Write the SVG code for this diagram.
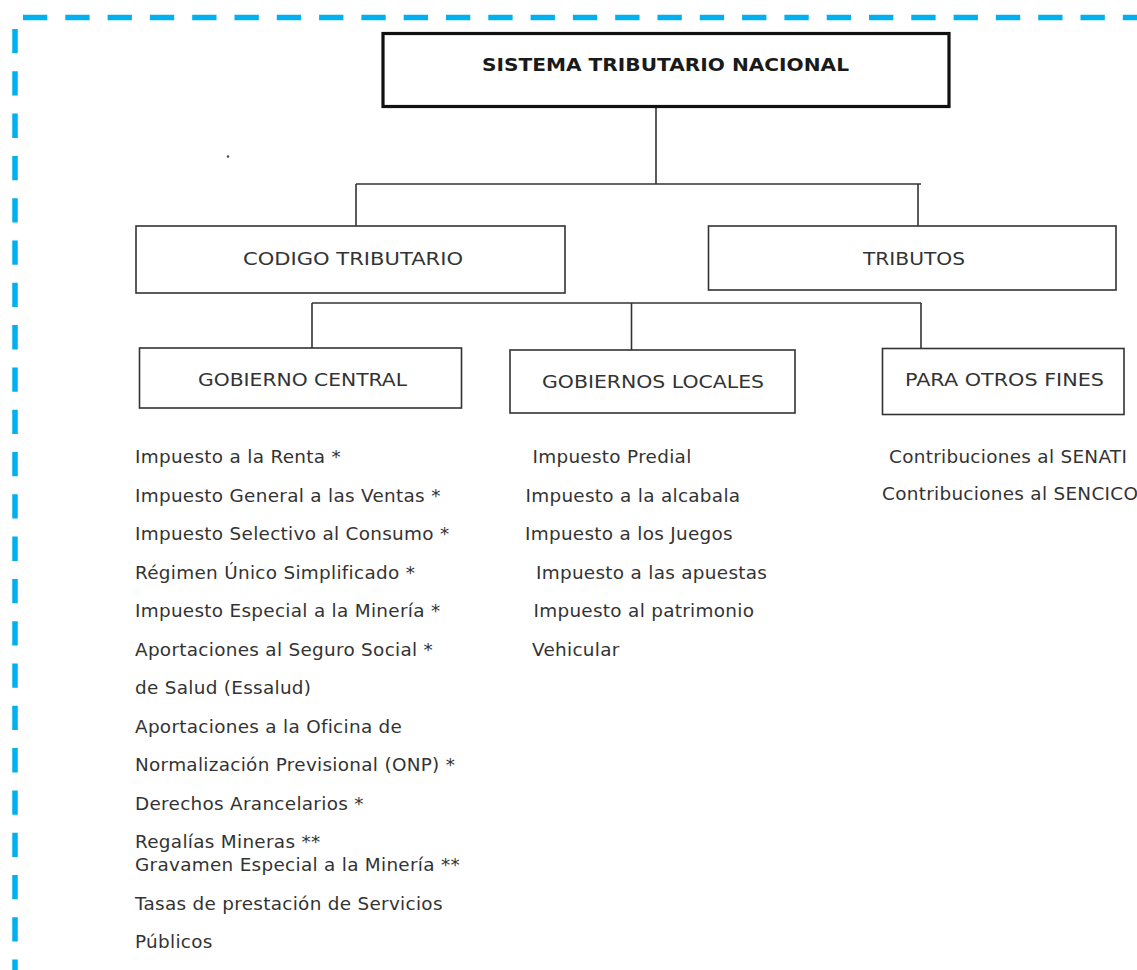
<svg xmlns="http://www.w3.org/2000/svg" width="1137" height="970" viewBox="0 0 1137 970">
<style>
.border{fill:none;stroke:#00b0f0;stroke-width:5.5;stroke-dasharray:24.3 18}
.box{fill:#fff;stroke:#333;stroke-width:1.6}
.main{fill:#fff;stroke:#111;stroke-width:3.2}
.conn{fill:none;stroke:#333;stroke-width:1.6}
.lbl{font-family:"DejaVu Sans",Verdana,sans-serif;font-size:18px;fill:#333}
.title{font-family:"DejaVu Sans",Verdana,sans-serif;font-weight:bold;font-size:18px;fill:#1a1a1a}
.li{font-family:"DejaVu Sans",Verdana,sans-serif;font-size:18.4px;letter-spacing:0.3px;fill:#333}
.lt{font-family:"DejaVu Sans",Tahoma,sans-serif;font-size:18.4px;letter-spacing:0.3px;fill:#333}
</style>
<rect width="1137" height="970" fill="#fff"/>
<g id="border">
<line class="border" x1="23" y1="17.5" x2="1137" y2="17.5"/>
<line class="border" x1="15" y1="29" x2="15" y2="970"/>
</g>
<circle cx="228" cy="156.5" r="1.2" fill="#445"/>
<g id="connectors">
<line class="conn" x1="656" y1="107" x2="656" y2="184"/>
<line class="conn" x1="356" y1="184" x2="921" y2="184"/>
<line class="conn" x1="356" y1="184" x2="356" y2="226"/>
<line class="conn" x1="918" y1="184" x2="918" y2="226"/>
<line class="conn" x1="312" y1="303" x2="921" y2="303"/>
<line class="conn" x1="312" y1="303" x2="312" y2="348"/>
<line class="conn" x1="631.5" y1="303" x2="631.5" y2="350"/>
<line class="conn" x1="921" y1="303" x2="921" y2="348"/>
</g>
<g id="n-sistema">
<rect class="main" x="383" y="33.5" width="566" height="73"/>
<text class="title" x="482" y="71" textLength="367" lengthAdjust="spacingAndGlyphs">SISTEMA TRIBUTARIO NACIONAL</text>
</g>
<g id="n-codigo">
<rect class="box" x="136" y="226" width="429" height="67"/>
<text class="lbl" x="243" y="264.5" textLength="220" lengthAdjust="spacingAndGlyphs">CODIGO TRIBUTARIO</text>
</g>
<g id="n-tributos">
<rect class="box" x="708.5" y="226" width="407.5" height="64"/>
<text class="lbl" x="863" y="264.5" textLength="102" lengthAdjust="spacingAndGlyphs">TRIBUTOS</text>
</g>
<g id="n-central">
<rect class="box" x="139.5" y="348" width="322" height="60"/>
<text class="lbl" x="198" y="386" textLength="209" lengthAdjust="spacingAndGlyphs">GOBIERNO CENTRAL</text>
</g>
<g id="n-locales">
<rect class="box" x="510" y="350" width="285" height="63"/>
<text class="lbl" x="542" y="388" textLength="222" lengthAdjust="spacingAndGlyphs">GOBIERNOS LOCALES</text>
</g>
<g id="n-otros">
<rect class="box" x="882.5" y="348.5" width="241.5" height="66"/>
<text class="lbl" x="905" y="386" textLength="199" lengthAdjust="spacingAndGlyphs">PARA OTROS FINES</text>
</g>
<g id="list-central">
<text class="li" x="135" y="463">Impuesto a la Renta *</text>
<text class="li" x="135" y="501.5">Impuesto General a las Ventas *</text>
<text class="li" x="135" y="540">Impuesto Selectivo al Consumo *</text>
<text class="li" x="135" y="578.5">Régimen Único Simplificado *</text>
<text class="li" x="135" y="617">Impuesto Especial a la Minería *</text>
<text class="li" x="135" y="655.5">Aportaciones al Seguro Social *</text>
<text class="li" x="135" y="694">de Salud (Essalud)</text>
<text class="li" x="135" y="732.5">Aportaciones a la Oficina de</text>
<text class="li" x="135" y="771">Normalización Previsional (ONP) *</text>
<text class="li" x="135" y="809.5">Derechos Arancelarios *</text>
<text class="li" x="135" y="848">Regalías Mineras **</text>
<text class="li" x="135" y="871">Gravamen Especial a la Minería **</text>
<text class="li" x="135" y="910">Tasas de prestación de Servicios</text>
<text class="li" x="135" y="948">Públicos</text>
</g>
<g id="list-locales">
<text class="lt" x="532.5" y="463">Impuesto Predial</text>
<text class="lt" x="525.5" y="501.5">Impuesto a la alcabala</text>
<text class="lt" x="525" y="540">Impuesto a los Juegos</text>
<text class="lt" x="536" y="578.5">Impuesto a las apuestas</text>
<text class="lt" x="533.5" y="617">Impuesto al patrimonio</text>
<text class="lt" x="532" y="655.5">Vehicular</text>
</g>
<g id="list-otros">
<text class="lt" x="889" y="463">Contribuciones al SENATI</text>
<text class="lt" x="882" y="500">Contribuciones al SENCICO</text>
</g>
</svg>
